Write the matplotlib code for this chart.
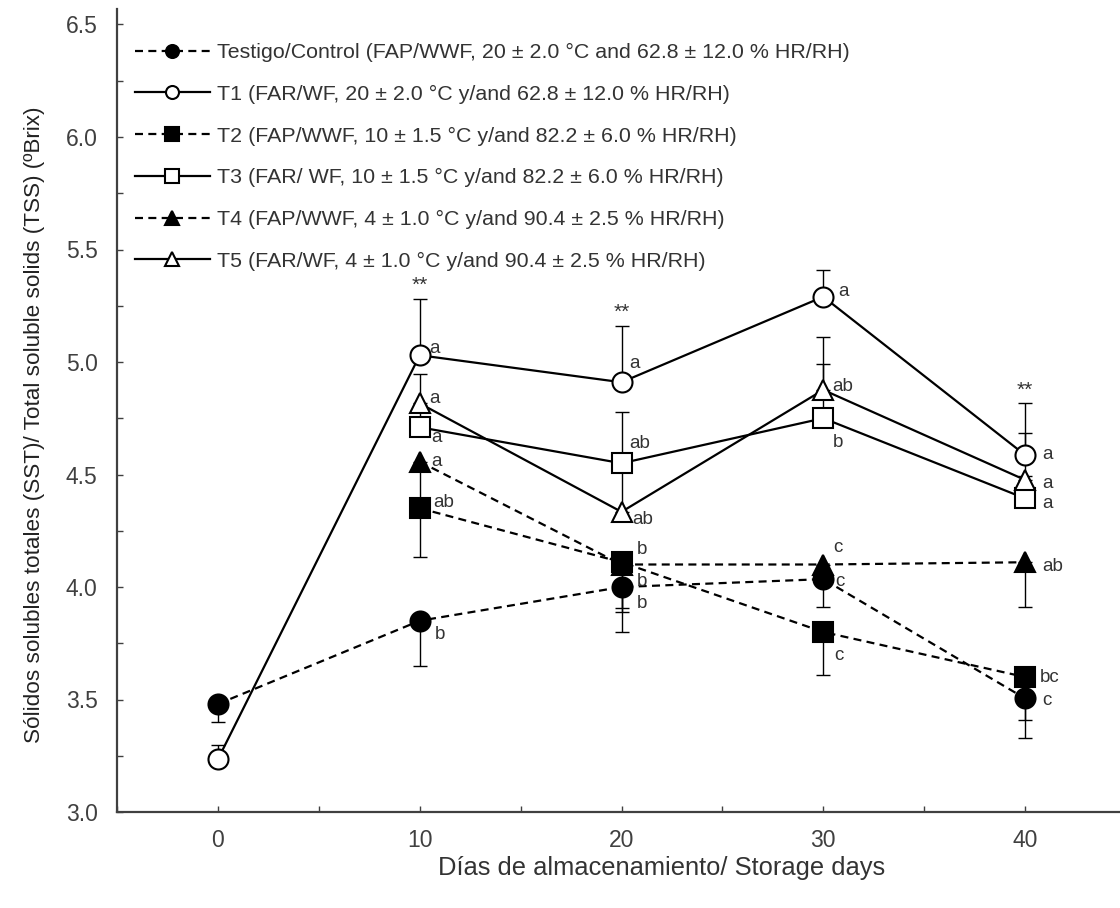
import matplotlib
matplotlib.use("Agg")
import matplotlib.pyplot as plt
from matplotlib.ticker import MultipleLocator

plt.rcParams['font.family'] = ['Liberation Sans', 'DejaVu Sans']

# ---------------- data ----------------
days = [0, 10, 20, 30, 40]
days_t = [10, 20, 30, 40]

# means (ºBrix)
control = [3.48, 3.85, 4.00, 4.035, 3.505]
t1 = [3.235, 5.03, 4.91, 5.29, 4.587]
t2 = [4.35, 4.11, 3.80, 3.60]
t3 = [4.71, 4.55, 4.75, 4.394]
t4 = [4.557, 4.10, 4.10, 4.11]
t5 = [4.816, 4.334, 4.876, 4.476]

# one-sided error bars (lower for FAP/WWF, upper for FAR/WF)
control_err = [0.08, 0.20, 0.20, 0.125, 0.175]
t1_err = [0.065, 0.25, 0.25, 0.12, 0.23]
t2_err = [0.215, 0.205, 0.193, 0.19]
t3_err = [0.10, 0.23, 0.24, 0.10]
t4_err = [0.20, 0.21, 0.08, 0.20]
t5_err = [0.13, 0.20, 0.235, 0.21]

control_letters = ['', 'b', 'b', 'c', 'c']
t1_letters = ['', 'a', 'a', 'a', 'a']
t2_letters = ['ab', 'b', 'c', 'bc']
t3_letters = ['a', 'ab', 'b', 'a']
t4_letters = ['a', 'b', 'c', 'ab']
t5_letters = ['a', 'ab', 'ab', 'a']
signif = ['', '**', '**', '', '**']

labels = [
    'Testigo/Control (FAP/WWF, 20 ± 2.0 °C and 62.8 ± 12.0 % HR/RH)',
    'T1 (FAR/WF, 20 ± 2.0 °C y/and 62.8 ± 12.0 % HR/RH)',
    'T2 (FAP/WWF, 10 ± 1.5 °C y/and 82.2 ± 6.0 % HR/RH)',
    'T3 (FAR/ WF, 10 ± 1.5 °C y/and 82.2 ± 6.0 % HR/RH)',
    'T4 (FAP/WWF, 4 ± 1.0 °C y/and 90.4 ± 2.5 % HR/RH)',
    'T5 (FAR/WF, 4 ± 1.0 °C y/and 90.4 ± 2.5 % HR/RH)',
]

# letter offsets in pixels (dx, dy) -- styling
control_off = [(0, 0), (15, -14), (15, -17), (12, -2), (17, -2)]
t1_off = [(0, 0), (10, 7), (8, 19), (15, 5), (17, 0)]
t2_off = [(13, 6), (15, 13), (11, -24), (15, 0)]
t3_off = [(11, -10), (8, 20), (10, -24), (17, -5)]
t4_off = [(12, 0), (15, -17), (10, 17), (17, -4)]
t5_off = [(10, 5), (11, -8), (9, 3), (17, -4)]

W, H, DPI = 1120, 908, 100
fig = plt.figure(figsize=(W / DPI, H / DPI), dpi=DPI)

x0, x1 = -5, 45
y0, y1 = 3.0, 6.57
px_x = 20.175
px_y = 225.0
left_px = 218 - (0 - x0) * px_x
bottom_px = 812
ax = fig.add_axes([left_px / W, (H - bottom_px) / H,
                   (x1 - x0) * px_x / W, (y1 - y0) * px_y / H])
ax.set_xlim(x0, x1)
ax.set_ylim(y0, y1)

TXT = '#333333'
dash = (0, (3.6, 2.4))
MS = 14.4
LW = 1.6
MEW = 1.5

series = [
    (days, control, control_err, 'o', 'black', dash, control_letters, control_off, 'down'),
    (days, t1, t1_err, 'o', 'white', '-', t1_letters, t1_off, 'up'),
    (days_t, t2, t2_err, 's', 'black', dash, t2_letters, t2_off, 'down'),
    (days_t, t3, t3_err, 's', 'white', '-', t3_letters, t3_off, 'up'),
    (days_t, t4, t4_err, '^', 'black', dash, t4_letters, t4_off, 'down'),
    (days_t, t5, t5_err, '^', 'white', '-', t5_letters, t5_off, 'up'),
]

handles = []
tops = {}
for xs, ys, es, mk, fc, ls, lets, offs, side in series:
    zeros = [0] * len(es)
    yerr = [zeros, es] if side == 'up' else [es, zeros]
    ax.errorbar(xs, ys, yerr=yerr, fmt='none', ecolor='black', elinewidth=1.0,
                capsize=5.2, capthick=1.0, zorder=2)
    ax.plot(xs, ys, color='black', linestyle=ls, linewidth=LW, zorder=3)
    ax.plot(xs, ys, linestyle='none', marker=mk, markersize=MS,
            markerfacecolor=fc, markeredgecolor='black', markeredgewidth=MEW, zorder=4)
    h, = ax.plot([], [], color='black', linestyle=ls, linewidth=LW, marker=mk,
                 markersize=MS * 0.65, markerfacecolor=fc, markeredgecolor='black',
                 markeredgewidth=MEW)
    handles.append(h)
    for xv, yv, ev in zip(xs, ys, es):
        top = yv + ev if side == 'up' else yv
        tops[xv] = max(tops.get(xv, 0), top)
    for xv, yv, lt, (dx, dy) in zip(xs, ys, lets, offs):
        if lt:
            ax.annotate(lt, (xv, yv), xytext=(dx * 0.72, dy * 0.72),
                        textcoords='offset points', ha='left', va='center',
                        fontsize=13.5, color=TXT, zorder=5)

# significance stars above the highest error bar
for d, s in zip(days, signif):
    if s:
        ax.annotate(s, (d, tops[d]), xytext=(0, 9.5), textcoords='offset points',
                    ha='center', va='center', fontsize=15, color=TXT)

# axes styling
for sp in ['top', 'right']:
    ax.spines[sp].set_visible(False)
for sp in ['left', 'bottom']:
    ax.spines[sp].set_linewidth(1.6)
    ax.spines[sp].set_color('#404040')

ax.set_xticks(days)
ax.xaxis.set_minor_locator(MultipleLocator(5))
ax.yaxis.set_major_locator(MultipleLocator(0.5))
ax.yaxis.set_minor_locator(MultipleLocator(0.25))
ax.yaxis.set_major_formatter(matplotlib.ticker.FormatStrFormatter('%.1f'))
ax.tick_params(which='both', direction='in', length=4, width=1, color='#404040',
               labelcolor='#404040', labelsize=16.5)
ax.tick_params(axis='y', which='both', pad=14)
ax.tick_params(axis='x', which='both', pad=12)

fig.text(662 / W, 1 - 868 / H, 'Días de almacenamiento/ Storage days',
         ha='center', va='center', fontsize=18.4, color=TXT)
fig.text(35 / W, 1 - 425 / H,
         'Sólidos solubles totales (SST)/ Total soluble solids (TSS) (ºBrix)',
         ha='center', va='center', rotation=90, fontsize=16.2, color='#222222')

leg = ax.legend(handles, labels, loc='upper left',
                bbox_to_anchor=(135 / W, 1 - 43 / H), bbox_transform=fig.transFigure,
                frameon=False, fontsize=15.4, handlelength=3.5, handletextpad=0.33,
                labelspacing=1.06, borderpad=0, borderaxespad=0, numpoints=1)
for t in leg.get_texts():
    t.set_color(TXT)

fig.savefig('out.png', dpi=DPI)
